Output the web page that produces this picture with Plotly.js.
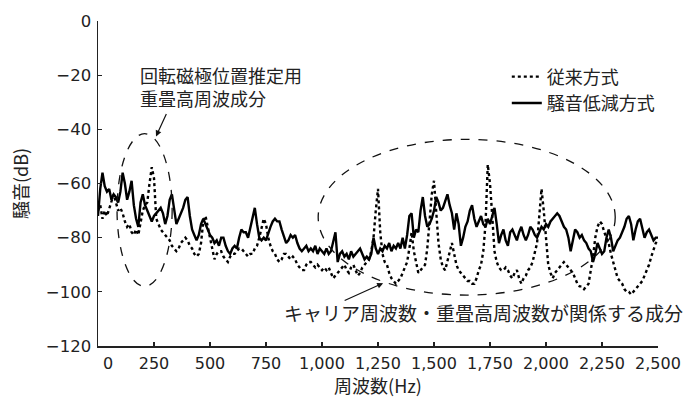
<!DOCTYPE html>
<html>
<head>
<meta charset="utf-8">
<script src="https://cdn.plot.ly/plotly-3.0.1.min.js"></script>
<style>
html,body{margin:0;padding:0;background:#fff;}
#chart{width:684px;height:398px;}
</style>
</head>
<body>
<div id="chart"></div>
<script>
// Frequency step (Hz) of the spectrum samples, starting at 0 Hz
const freqStart = 0;
const freqStep = 10;

// 従来方式 (dotted) noise level, dB, every 10 Hz from 0 to 2500 Hz
const conventional = [
-70,-68,-73,-70,-72,-69,-66,-64,-67,-70,
-69,-71,-74,-76,-75,-78,-79,-77,-79,-75,
-70,-68,-67,-60,-54,-58,-73,-75,-77,-78,
-79,-80,-81,-83,-84,-85,-84,-82,-81,-80,
-81,-83,-84,-86,-87,-86,-82,-74,-72,-76,
-81,-84,-88,-86,-85,-85,-87,-88,-89,-87,
-86,-86,-85,-84,-84,-85,-86,-87,-86,-86,
-84,-83,-80,-76,-73,-75,-80,-83,-85,-86,
-88,-89,-88,-86,-86,-87,-88,-87,-88,-90,
-91,-92,-92,-90,-89,-89,-90,-91,-90,-91,
-92,-91,-92,-91,-93,-95,-94,-93,-92,-91,
-90,-92,-93,-91,-90,-92,-94,-93,-91,-90,
-89,-88,-85,-80,-70,-62,-78,-86,-89,-90,
-93,-95,-96,-97,-96,-95,-93,-91,-89,-84,
-78,-85,-89,-93,-92,-91,-90,-84,-75,-64,
-59,-70,-82,-88,-91,-92,-89,-86,-82,-86,
-90,-92,-93,-94,-95,-96,-96,-97,-97,-95,
-92,-90,-85,-75,-53,-60,-72,-85,-89,-91,
-92,-92,-91,-92,-94,-95,-93,-92,-95,-97,
-95,-94,-92,-91,-89,-86,-82,-72,-62,-70,
-80,-90,-93,-95,-93,-92,-91,-90,-89,-90,
-91,-92,-93,-95,-97,-98,-98,-99,-98,-97,
-92,-87,-80,-76,-74,-75,-78,-80,-82,-86,
-89,-92,-95,-96,-97,-99,-100,-100,-101,-100,
-99,-98,-97,-96,-94,-92,-90,-87,-84,-82,
-81
];

// 騒音低減方式 (solid) noise level, dB, every 10 Hz from 0 to 2500 Hz
const reduced = [
-72,-62,-56,-61,-63,-62,-66,-64,-65,-67,
-63,-56,-60,-66,-63,-59,-68,-73,-76,-67,
-64,-68,-70,-72,-74,-72,-71,-70,-69,-71,
-75,-72,-66,-64,-70,-75,-73,-71,-69,-66,
-65,-72,-77,-79,-81,-79,-75,-73,-75,-77,
-79,-80,-82,-81,-83,-80,-80,-83,-85,-86,
-84,-83,-84,-80,-77,-78,-78,-80,-76,-72,
-69,-75,-80,-81,-80,-81,-78,-76,-74,-73,
-74,-74,-77,-80,-82,-81,-79,-80,-79,-82,
-84,-85,-84,-83,-85,-84,-85,-83,-86,-84,
-85,-86,-84,-86,-85,-82,-78,-89,-86,-85,
-87,-86,-88,-85,-87,-86,-85,-84,-86,-88,
-87,-88,-86,-80,-84,-86,-84,-85,-83,-84,
-82,-85,-83,-84,-82,-84,-80,-84,-79,-72,
-71,-80,-77,-78,-70,-65,-72,-76,-75,-73,
-70,-65,-67,-70,-69,-66,-64,-68,-71,-77,
-71,-75,-83,-80,-76,-74,-70,-68,-73,-76,
-74,-72,-75,-76,-73,-75,-72,-69,-75,-82,
-79,-77,-81,-83,-78,-77,-79,-81,-78,-76,
-79,-81,-79,-76,-77,-79,-80,-78,-76,-77,
-75,-76,-74,-73,-72,-71,-72,-74,-76,-77,
-80,-85,-81,-77,-78,-80,-79,-81,-82,-84,
-85,-89,-86,-82,-84,-86,-85,-80,-77,-80,
-85,-83,-81,-80,-78,-76,-73,-72,-75,-81,
-77,-74,-73,-77,-80,-78,-77,-79,-81,-80,
-80
];

const seriesNames = ['従来方式', '騒音低減方式'];
const xTickVals = [0, 250, 500, 750, 1000, 1250, 1500, 1750, 2000, 2250, 2500];
const xTickText = ['\u2007\u20070', '250', '500', '750', '1,000', '1,250', '1,500', '1,750', '2,000', '2,250', '2,500'];
const yTickVals = [0, -20, -40, -60, -80, -100, -120];

const FONT = '"Noto Sans CJK JP", "Noto Sans", sans-serif';
const NUMFONT = '"DejaVu Sans", "Noto Sans", sans-serif';
const TXT = '#222';

const traces = [
  {
    type: 'scatter', mode: 'lines', name: seriesNames[0],
    x0: freqStart, dx: freqStep, y: conventional,
    line: {color: '#000', width: 2.4, dash: 'dot'},
    hoverinfo: 'skip'
  },
  {
    type: 'scatter', mode: 'lines', name: seriesNames[1],
    x0: freqStart, dx: freqStep, y: reduced,
    line: {color: '#000', width: 2.4},
    hoverinfo: 'skip'
  }
];

const layout = {
  width: 684, height: 398,
  margin: {l: 98, r: 26, t: 21, b: 52},
  paper_bgcolor: '#fff', plot_bgcolor: '#fff',
  font: {family: FONT, size: 17, color: TXT},
  showlegend: true,
  legend: {
    x: 0.73, y: 0.885, xanchor: 'left', yanchor: 'top',
    bgcolor: 'rgba(0,0,0,0)', borderwidth: 0,
    font: {family: FONT, size: 18, color: TXT},
    tracegroupgap: 0
  },
  xaxis: {
    range: [0, 2500], tickvals: xTickVals, ticktext: xTickText,
    ticks: 'inside', ticklen: 4, tickwidth: 1.2, tickcolor: '#222',
    showline: true, linecolor: '#222', linewidth: 1.5,
    showgrid: false, zeroline: false, ticklabelstandoff: 2,
    tickfont: {family: NUMFONT, size: 16, color: TXT},
    title: {text: '周波数(Hz)', font: {family: FONT, size: 18, color: TXT}, standoff: 4}
  },
  yaxis: {
    range: [-120, 0], tickvals: yTickVals,
    ticks: 'inside', ticklen: 4, tickwidth: 1.2, tickcolor: '#222',
    showline: true, linecolor: '#222', linewidth: 1.5,
    showgrid: false, zeroline: false, ticklabelstandoff: 2,
    tickfont: {family: NUMFONT, size: 16.5, color: TXT},
    title: {text: '騒音(dB)', font: {family: FONT, size: 18, color: TXT}, standoff: 12}
  },
  shapes: [
    {type: 'circle', xref: 'x', yref: 'y', x0: 85, x1: 331, y0: -98, y1: -41.6,
     line: {color: '#111', width: 1.3, dash: 'dash'}},
    {type: 'circle', xref: 'x', yref: 'y', x0: 983, x1: 2309, y0: -101.2, y1: -43.7,
     line: {color: '#111', width: 1.3, dash: 'dash'}}
  ],
  annotations: [
    {xref: 'paper', yref: 'paper', x: 0.071, y: 0.797, xanchor: 'left', yanchor: 'middle',
     align: 'left', showarrow: false,
     text: '回転磁極位置推定用<br>重畳高周波成分',
     font: {family: FONT, size: 18, color: TXT}},
    {xref: 'x', yref: 'y', x: 259, y: -42.6, ax: 11, ay: -24, text: '',
     showarrow: true, arrowhead: 2, arrowsize: 1, arrowwidth: 1.2, arrowcolor: '#111'},
    {xref: 'paper', yref: 'paper', x: 0.689, y: 0.1045, xanchor: 'center', yanchor: 'middle',
     showarrow: false,
     text: 'キャリア周波数・重畳高周波数が関係する成分',
     font: {family: FONT, size: 19, color: TXT}},
    {xref: 'x', yref: 'y', x: 1273, y: -96.8, ax: -40, ay: 18, text: '',
     showarrow: true, arrowhead: 2, arrowsize: 1, arrowwidth: 1.2, arrowcolor: '#111'}
  ]
};

Plotly.newPlot('chart', traces, layout, {staticPlot: true, displayModeBar: false});
</script>
</body>
</html>
